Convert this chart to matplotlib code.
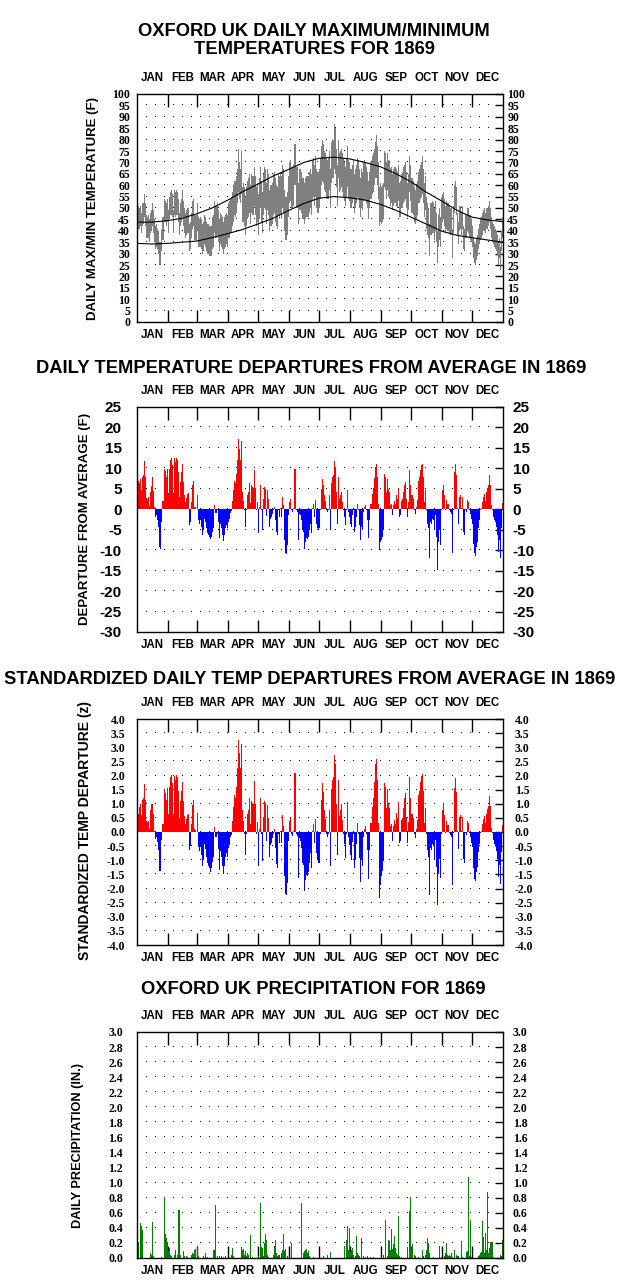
import numpy as np
import matplotlib
matplotlib.use('Agg')
import matplotlib.pyplot as plt

plt.rcParams['font.family'] = ['Liberation Sans', 'DejaVu Sans']
plt.rcParams['font.weight'] = 'bold'

# ---------------- DATA ----------------
months = ['JAN', 'FEB', 'MAR', 'APR', 'MAY', 'JUN', 'JUL', 'AUG', 'SEP', 'OCT', 'NOV', 'DEC']
month_days = [31, 29, 31, 30, 31, 30, 31, 31, 30, 31, 30, 31]

# daily maximum temperature (F), one value per day slot
tmax = [
    52, 51, 50, 51, 48, 52, 52, 56, 52, 47, 46, 47, 45, 48, 49, 52, 49, 45, 42, 43, 41, 40, 35, 35, 41, 46, 46, 54, 53, 52, 54,
    49, 55, 57, 58, 56, 49, 58, 57, 58, 57, 54, 48, 52, 54, 58, 53, 50, 48, 49, 50, 50, 43, 44, 48, 53, 54, 47, 47, 47,
    52, 46, 45, 46, 45, 43, 44, 47, 46, 44, 43, 43, 42, 42, 42, 46, 47, 53, 51, 51, 52, 49, 45, 48, 47, 46, 44, 46, 47, 48, 47,
    52, 53, 54, 55, 57, 60, 62, 62, 64, 67, 76, 70, 67, 75, 59, 61, 59, 55, 59, 62, 63, 65, 60, 65, 64, 64, 68, 64, 59, 61,
    56, 63, 68, 62, 57, 65, 68, 67, 61, 67, 65, 58, 60, 60, 61, 65, 66, 63, 60, 59, 65, 64, 66, 64, 69, 67, 58, 55, 55, 57, 64,
    70, 71, 68, 68, 69, 78, 78, 68, 68, 61, 67, 67, 66, 63, 63, 61, 63, 64, 64, 64, 66, 67, 65, 71, 72, 69, 73, 67, 66, 66,
    67, 72, 77, 80, 78, 75, 74, 72, 71, 72, 75, 67, 79, 80, 80, 87, 85, 76, 69, 80, 74, 75, 76, 74, 72, 70, 68, 72, 77, 71, 70,
    67, 67, 69, 71, 65, 67, 69, 72, 71, 67, 63, 67, 66, 70, 71, 70, 68, 66, 62, 66, 70, 70, 73, 74, 76, 79, 82, 77, 70, 59, 61,
    59, 60, 61, 75, 74, 70, 74, 71, 70, 67, 68, 65, 67, 68, 68, 67, 66, 69, 61, 62, 65, 66, 68, 69, 70, 66, 61, 65, 73, 69,
    63, 63, 62, 59, 58, 60, 62, 66, 67, 69, 70, 73, 67, 61, 64, 55, 52, 50, 43, 52, 52, 53, 52, 50, 53, 48, 40, 47, 50, 46, 55,
    56, 57, 54, 51, 53, 52, 52, 51, 50, 50, 40, 51, 60, 62, 59, 48, 44, 51, 51, 48, 51, 42, 41, 47, 47, 50, 50, 47, 47, 45,
    42, 37, 35, 34, 37, 38, 41, 43, 45, 46, 48, 49, 50, 48, 50, 50, 51, 53, 50, 46, 44, 43, 42, 41, 40, 38, 34, 37, 33, 40, 46,
]
# daily minimum temperature (F)
tmin = [
    42, 41, 41, 42, 39, 42, 43, 46, 42, 37, 37, 37, 35, 39, 40, 42, 39, 35, 32, 33, 32, 30, 25, 25, 31, 36, 36, 44, 44, 42, 44,
    39, 45, 47, 47, 46, 39, 47, 46, 47, 47, 44, 38, 42, 44, 46, 42, 39, 37, 38, 39, 39, 31, 32, 37, 41, 42, 36, 36, 35,
    40, 33, 33, 33, 32, 30, 31, 34, 33, 31, 30, 30, 29, 29, 29, 32, 33, 39, 37, 37, 38, 35, 31, 34, 33, 32, 30, 32, 33, 34, 33,
    37, 37, 39, 39, 42, 44, 47, 46, 48, 52, 57, 54, 52, 56, 44, 44, 42, 38, 42, 45, 46, 48, 43, 48, 47, 47, 51, 47, 42, 44,
    38, 45, 50, 44, 39, 47, 50, 49, 43, 49, 47, 40, 42, 42, 43, 47, 48, 44, 42, 41, 47, 45, 47, 45, 50, 48, 40, 36, 36, 38, 46,
    52, 53, 50, 50, 51, 60, 60, 50, 50, 43, 49, 49, 48, 45, 45, 43, 45, 46, 46, 46, 48, 50, 47, 53, 55, 51, 55, 50, 48, 48,
    50, 54, 60, 62, 61, 58, 57, 54, 54, 54, 58, 50, 61, 63, 63, 67, 65, 59, 51, 63, 57, 58, 59, 57, 55, 53, 51, 55, 59, 54, 53,
    50, 50, 52, 54, 48, 50, 52, 55, 54, 50, 46, 50, 49, 53, 54, 53, 52, 50, 45, 50, 54, 54, 56, 57, 60, 63, 63, 60, 54, 42, 44,
    43, 44, 45, 59, 58, 54, 58, 55, 54, 51, 52, 49, 51, 52, 52, 51, 50, 53, 46, 46, 50, 50, 52, 53, 54, 50, 46, 49, 57, 53,
    48, 48, 47, 44, 43, 45, 47, 52, 52, 54, 55, 56, 52, 46, 49, 41, 38, 37, 29, 38, 38, 39, 39, 36, 40, 35, 26, 33, 36, 33, 41,
    44, 45, 42, 39, 41, 40, 40, 39, 38, 38, 28, 39, 48, 50, 47, 38, 34, 40, 41, 38, 41, 32, 31, 37, 37, 40, 39, 37, 36, 35,
    33, 28, 26, 25, 27, 29, 32, 34, 36, 37, 38, 40, 40, 39, 41, 41, 42, 44, 41, 37, 35, 34, 33, 32, 31, 29, 25, 28, 23, 31, 37,
]

# normal (average) max / min curves
norm_days = [0, 15, 31, 45, 60, 75, 91, 105, 121, 136, 152, 167, 182, 197, 213, 228, 244, 259, 274, 289, 305, 320, 335, 350, 366]
norm_max = [43.8, 43.8, 44.5, 45.5, 47.5, 50.0, 53.5, 57.0, 60.5, 64.0, 67.0, 70.0, 71.8, 72.3, 71.5, 70.0, 68.0, 65.0, 61.5, 57.0, 53.0, 49.0, 46.0, 44.8, 44.0]
norm_min = [34.5, 34.2, 34.5, 35.0, 35.5, 37.0, 38.8, 40.5, 43.0, 45.5, 49.0, 52.0, 54.3, 55.0, 54.5, 53.5, 51.5, 49.0, 46.0, 43.0, 39.8, 38.0, 37.0, 36.0, 35.0]

# daily departure from average (F)
dep = [
    8, 7, 6.5, 7.3, 4.6, 7.9, 8.3, 11.7, 8, 2.8, 2.6, 3, 0.7, 4.2, 5.6, 7.9, 4.5, 0.5, -1.9, -1.3, -2.7, -4.3, -9.2, -9.6, -3, 2, 2, 9.9, 9.3, 8, 9.9,
    4, 9.8, 12, 12.6, 10.7, 4, 12.5, 11.5, 12.6, 12, 9, 3, 6.7, 9, 11, 6.7, 3.4, 1.8, 2.8, 3.8, 3.9, -3.9, -3, 1.8, 6, 7, 0.6, 0.5, 0,
    3.6, -2.7, -3.5, -2.7, -4.3, -6.3, -5.1, -2.3, -3.1, -4.6, -5.7, -6.3, -6.7, -7.3, -6.7, -5.5, -4.7, 1, -1, -1, -0.3, -3.1, -7, -3.5, -4.7, -6.2, -7.7, -6.3, -4.6, -3.9, -4.7,
    -3, -2.5, -1, -0.5, 2, 4.6, 7, 6.4, 8.5, 12, 17.2, 14.8, 12, 16.6, 4.2, 2, -0.3, -4.3, -0.3, 3.4, 4.2, 6.3, 1.6, 5.9, 5.4, 5.2, 9.5, 5.2, -0.3, 1.8,
    -5.9, 0.5, 5.9, -0.3, -5.1, 2.6, 5.4, 5, -1.6, 4.6, 2.4, -4.3, -2.3, -1.9, -1.1, -0.3, 0.5, -2.7, -5.5, -6.3, -0.3, -1.9, 0.2, -1.9, 3, 1, -7.6, -10.8, -11, -8.8, -1.5,
    1.8, 2.4, -0.3, -0.7, 0.2, 9.9, 9.9, -0.3, -0.7, -7.6, -1.1, -1.5, -2.7, -5.1, -5.5, -9.8, -8, -7.1, -7.3, -6.7, -5.1, -3.5, -5.9, 0.2, 1.4, -1.9, 2.2, -3.5, -4.7, -5.1,
    -4.7, -0.3, 4.9, 7.5, 6, 3.4, 2, -0.3, -0.7, -0.3, 3.4, -5.1, 6.5, 7.9, 8.3, 11.7, 10.3, 4.2, -3.5, 7.9, 2.4, 3.4, 4.2, 1.8, -0.3, -1.9, -3.9, -0.3, 4.6, -0.7, -2,
    -3.5, -4.3, -1.5, -0.3, -5.5, -4.3, -1.9, 1.4, -0.3, -3.9, -7.6, -4.3, -5.1, -0.7, 0.5, 1, -0.3, -2.7, -7.1, -2.7, 1.4, 1.4, 3.8, 5.2, 7.6, 10.3, 11.1, 7.9, 1.4, -10, -8,
    -7.6, -6.7, -5.1, 8.5, 7.9, 4.2, 7.5, 5.0, 4.2, 1, 1.4, -1.5, 1, 2, 1.4, 3.4, 2.4, 5.2, -1.9, -1.5, 2, 2.4, 4.2, 5.9, 6.7, 2.6, -1.9, 1.8, 9.5, 5.9,
    3.4, 3.4, 2.6, -0.3, -1.1, 0.5, 2.2, 7, 7.9, 9.5, 10.7, 11.1, 7.9, 1.8, 4.6, -0.3, -3.5, -4.7, -12, -3.1, -3.5, -2.3, -2.7, -5.1, -1.5, -6.7, -14.9, -8, -5.1, -8.8, -0.3,
    4.6, 5.9, 3.4, -0.3, 2.2, 1.4, 1.4, -0.3, -0.7, -1.1, -10.8, -0.3, 9.1, 11.1, 8.3, 0.2, -3.5, 3, 3.4, 0.2, 3, -5.5, -6.3, -0.3, -0.7, 2.2, 1.8, -0.3, -1.1, -2.3,
    -3.5, -8.4, -10.8, -11.4, -9.2, -8, -4.7, -2.7, -0.3, 0.2, 1.8, 3, 3.8, 2, 4.2, 5.2, 6, 8.3, 5.9, 1, -0.3, -1.9, -2.7, -3.1, -4.3, -6.3, -10.4, -7.6, -12, -4.7, 1.6,
]

# standardized daily departure (z)
zdep = [
    1.15, 0.65, 0.9, 1.0, 0.6, 1.15, 1.2, 1.7, 1.15, 0.4, 0.35, 0.4, 0.1, 0.77, 1.0, 1.0, 0.65, 0.05, -0.24, -0.18, -0.36, -0.65, -1.37, -1.39, -0.3, 0.27, 0.3, 1.49, 1.37, 1.15, 1.55,
    0.65, 1.58, 1.94, 2.03, 1.73, 0.65, 2.0, 1.85, 2.03, 1.94, 1.45, 0.48, 1.08, 1.45, 1.77, 1.08, 0.55, 0.29, 0.45, 0.61, 0.63, -0.63, -0.48, 0.29, 0.97, 1.13, 0.1, 0.08, 0,
    0.69, -0.52, -0.67, -0.52, -0.83, -1.21, -0.98, -0.44, -0.6, -0.88, -1.1, -1.21, -1.29, -1.4, -1.29, -1.06, -0.9, 0.19, -0.19, -0.19, -0.06, -0.6, -1.35, -0.67, -0.9, -1.19, -1.48, -1.21, -0.88, -0.75, -0.9,
    -0.57, -0.47, -0.19, -0.09, 0.38, 0.87, 1.32, 1.21, 1.6, 2.26, 3.25, 2.79, 2.26, 3.13, 0.79, 0.38, -0.06, -0.81, -0.06, 0.64, 0.79, 1.19, 0.3, 1.11, 1.02, 0.98, 1.79, 0.98, -0.06, 0.34,
    -1.2, 0.1, 1.2, -0.06, -1.04, 0.53, 1.1, 1.02, -0.33, 0.94, 0.49, -0.88, -0.47, -0.39, -0.22, -0.06, 0.1, -0.55, -1.12, -1.29, -0.06, -0.39, 0.04, -0.39, 0.61, 0.2, -1.55, -2.2, -2.24, -1.8, -0.31,
    0.38, 0.51, -0.06, -0.15, 0.04, 2.1, 2.1, -0.06, -0.15, -1.62, -0.23, -0.32, -0.57, -1.09, -1.17, -2.09, -1.7, -1.51, -1.55, -1.43, -1.09, -0.74, -1.26, 0.04, 0.3, -0.4, 0.47, -0.74, -1.0, -1.09,
    -1.09, -0.07, 1.14, 1.74, 1.4, 0.79, 0.47, -0.07, -0.16, -0.07, 0.79, -1.19, 1.51, 1.84, 1.93, 2.72, 2.4, 0.98, -0.81, 1.84, 0.56, 0.79, 0.98, 0.42, -0.07, -0.44, -0.91, -0.07, 1.07, -0.16, -0.47,
    -0.81, -1.0, -0.35, -0.07, -1.28, -1.0, -0.44, 0.33, -0.07, -0.91, -1.77, -1.0, -1.19, -0.16, 0.12, 0.23, -0.07, -0.63, -1.65, -0.63, 0.33, 0.33, 0.88, 1.21, 1.77, 2.4, 2.58, 1.84, 0.33, -2.33, -1.86,
    -1.55, -1.37, -1.04, 1.73, 1.61, 0.86, 1.53, 1.02, 0.86, 0.2, 0.29, -0.31, 0.2, 0.41, 0.29, 0.69, 0.49, 1.06, -0.39, -0.31, 0.41, 0.49, 0.86, 1.2, 1.37, 0.53, -0.39, 0.37, 1.94, 1.2,
    0.63, 0.63, 0.48, -0.06, -0.2, 0.09, 0.41, 1.3, 1.46, 1.76, 1.98, 2.06, 1.46, 0.33, 0.85, -0.06, -0.65, -0.87, -2.22, -0.57, -0.65, -0.43, -0.5, -0.94, -0.28, -1.24, -2.6, -1.48, -0.94, -1.63, -0.06,
    0.79, 1.02, 0.59, -0.05, 0.38, 0.24, 0.24, -0.05, -0.12, -0.19, -1.86, -0.05, 1.57, 1.91, 1.43, 0.03, -0.6, 0.52, 0.59, 0.03, 0.52, -0.95, -1.09, -0.05, -0.12, 0.38, 0.31, -0.05, -0.19, -0.4,
    -0.54, -1.29, -1.66, -1.75, -1.42, -1.23, -0.72, -0.42, -0.05, 0.03, 0.28, 0.46, 0.58, 0.31, 0.65, 0.8, 0.92, 1.28, 0.91, 0.15, -0.05, -0.29, -0.42, -0.48, -0.66, -0.97, -1.6, -1.17, -1.85, -0.72, 0.25,
]

# daily precipitation (inches): day slot index and amount for wet days
precip_days = [0, 1, 3, 4, 5, 13, 14, 15, 16, 24, 27, 28, 29, 30, 31, 32, 33, 34, 37, 38, 40, 41, 42, 43, 46, 47, 49, 50,
               54, 55, 56, 57, 58, 60, 61, 66, 68, 70, 76, 77, 78, 80, 82, 84, 86, 88, 92, 94, 95, 96, 104, 105, 106, 107,
               108, 109, 110, 111, 113, 115, 121, 123, 124, 125, 126, 127, 128, 129, 130, 131, 136, 137, 138, 139, 140, 141,
               142, 144, 145, 146, 147, 148, 150, 154, 164, 166, 167, 168, 169, 170, 171, 172, 176, 186, 190, 193, 207, 209,
               210, 211, 212, 213, 214, 215, 216, 218, 219, 220, 221, 222, 224, 226, 228, 230, 233, 236, 244, 246, 248, 250,
               251, 252, 253, 254, 255, 256, 257, 258, 259, 260, 261, 262, 264, 270, 272, 273, 274, 275, 277, 278, 281, 285,
               286, 288, 289, 290, 291, 292, 296, 302, 304, 307, 308, 309, 310, 311, 312, 313, 314, 315, 317, 319, 320, 321,
               324, 325, 329, 330, 331, 332, 333, 334, 341, 342, 343, 344, 345, 346, 347, 348, 349, 350, 351, 352, 353, 354,
               355, 356, 363, 364, 365]
precip_vals = [0.12, 0.21, 0.46, 0.43, 0.37, 0.07, 0.04, 0.48, 0.02, 0.01, 0.81, 0.32, 0.27, 0.21, 0.09, 0.13, 0.04, 0.03, 0.04, 0.11, 0.04, 0.64, 0.64, 0.04, 0.09, 0.03, 0.02, 0.01,
               0.04, 0.07, 0.05, 0.10, 0.12, 0.16, 0.02, 0.02, 0.06, 0.01, 0.11, 0.10, 0.71, 0.03, 0.02, 0.02, 0.01, 0.02, 0.01, 0.04, 0.13, 0.03, 0.15, 0.11, 0.12, 0.04,
               0.09, 0.03, 0.07, 0.04, 0.30, 0.01, 0.02, 0.73, 0.15, 0.13, 0.02, 0.20, 0.32, 0.24, 0.04, 0.01, 0.04, 0.16, 0.24, 0.07, 0.02, 0.04,
               0.04, 0.07, 0.11, 0.32, 0.09, 0.12, 0.02, 0.20, 0.73, 0.06, 0.09, 0.11, 0.12, 0.07, 0.09, 0.03, 0.01, 0.02, 0.04, 0.08, 0.16, 0.24,
               0.42, 0.11, 0.40, 0.08, 0.11, 0.13, 0.04, 0.02, 0.29, 0.07, 0.04, 0.02, 0.27, 0.03, 0.01, 0.02, 0.01, 0.01, 0.01, 0.04, 0.51, 0.03,
               0.24, 0.22, 0.11, 0.38, 0.12, 0.19, 0.29, 0.13, 0.07, 0.04, 0.56, 0.02, 0.01, 0.15, 0.63, 0.81, 0.11, 0.18, 0.04, 0.02, 0.01, 0.10,
               0.02, 0.04, 0.11, 0.27, 0.20, 0.06, 0.01, 0.16, 0.01, 0.03, 0.07, 0.20, 0.04, 0.03, 0.04, 0.03, 0.07, 0.01, 0.11, 0.04, 0.02, 0.03,
               0.22, 0.01, 0.08, 0.09, 1.07, 0.02, 0.50, 0.01, 0.02, 0.04, 0.07, 0.08, 0.49, 0.28, 0.07, 0.33, 0.11, 0.88, 0.07, 0.13, 0.21, 0.21,
               0.21, 0.01, 0.04, 0.03, 0.24]

assert len(tmax) == 366 and len(tmin) == 366 and len(dep) == 366 and len(zdep) == 366
assert len(precip_days) == len(precip_vals)

# ---------------- FIGURE ----------------
W, H = 634, 1282
fig = plt.figure(figsize=(W / 100, H / 100), dpi=100)

def px_axes(left, top, right, bottom):
    return fig.add_axes([left / W, 1 - bottom / H, (right - left) / W, (bottom - top) / H])

bounds = np.concatenate([[0], np.cumsum(month_days)])
dot_x = np.arange(9, 355, 9)
x = np.arange(len(tmax))

SERIF = ['Liberation Serif', 'DejaVu Serif']
SANS = ['Liberation Sans', 'DejaVu Sans']

def setup(ax, ylo, yhi, yticks, labels, grid_levels, tfam, tsize, lpad, rpad):
    ax.set_xlim(0, 366)
    ax.set_ylim(ylo, yhi)
    for s in ax.spines.values():
        s.set_linewidth(1.0)
    ax.set_xticks(bounds[1:-1])
    ax.tick_params(axis='x', direction='in', length=9, width=1, top=True, bottom=True,
                   labelbottom=False)
    ax.set_yticks(yticks)
    ax.set_yticklabels(labels)
    ax.tick_params(axis='y', direction='in', length=6, width=1, left=False, right=True,
                   labelleft=True, labelright=False, pad=lpad)
    for t in ax.get_yticklabels():
        t.set_fontfamily(tfam)
        t.set_fontsize(tsize)
        t.set_fontweight('bold')
    # right-hand labels
    for v, s in zip(yticks, labels):
        ax.annotate(s, (1, v), xycoords=('axes fraction', 'data'), xytext=(rpad, 0),
                    textcoords='offset points', ha='left', va='center_baseline',
                    fontfamily=tfam, fontsize=tsize, fontweight='bold', annotation_clip=False)
    for lv in grid_levels:
        ax.plot(dot_x, [lv] * len(dot_x), ls='none', marker=',', color='black', zorder=1)
    for i, m in enumerate(months):
        mid = (bounds[i] + bounds[i + 1]) / 2
        ax.annotate(m, (mid, 1), xycoords=('data', 'axes fraction'), xytext=(0, 11.5),
                    textcoords='offset points', ha='center', va='center', fontsize=8.3, fontweight='bold')
        ax.annotate(m, (mid, 0), xycoords=('data', 'axes fraction'), xytext=(0, -9.5),
                    textcoords='offset points', ha='center', va='center', fontsize=8.3, fontweight='bold')

# Panel 1
ax1 = px_axes(137, 94, 503, 322)
t1 = list(range(0, 101, 5))
setup(ax1, 0, 100, t1, [str(v) for v in t1], t1[1:-1], SERIF, 8.5, 5, 3)
ax1.bar(x, np.array(tmax) - np.array(tmin), bottom=tmin, width=1.0, align='edge',
        color='#808080', linewidth=0, antialiased=False, zorder=2)
ax1.plot(norm_days, norm_max, color='black', lw=0.8, zorder=3)
ax1.plot(norm_days, norm_min, color='black', lw=0.8, zorder=3)

# Panel 2
ax2 = px_axes(137, 407, 503, 632)
t2 = list(range(-30, 26, 5))
setup(ax2, -30, 25, t2, [str(v) for v in t2], t2[1:-1], SANS, 11, 11, 7)
c2 = ['#FF0000' if v > 0 else '#0000FF' for v in dep]
ax2.bar(x, dep, width=1.0, align='edge', color=c2, linewidth=0, antialiased=False, zorder=2)

# Panel 3
ax3 = px_axes(137, 719, 503, 945)
t3 = [v / 2 for v in range(-8, 9)]
setup(ax3, -4, 4, t3, ['%.1f' % v for v in t3], t3[1:-1], SERIF, 8.5, 8.5, 8.5)
c3 = ['#FF0000' if v > 0 else '#0000FF' for v in zdep]
ax3.bar(x, zdep, width=1.0, align='edge', color=c3, linewidth=0, antialiased=False, zorder=2)

# Panel 4
ax4 = px_axes(137, 1032, 503, 1258)
t4 = [v / 5 for v in range(0, 16)]
setup(ax4, 0, 3.0, t4, ['%.1f' % v for v in t4], t4[1:-1], SERIF, 8.5, 10, 7)
ax4.bar(precip_days, precip_vals, width=1.0, align='edge', color='#008000', linewidth=0,
        antialiased=False, zorder=2)

# Titles
def ftext(xp, yp, s, **kw):
    fig.text(xp / W, 1 - yp / H, s, ha='center', va='center', fontweight='bold', **kw)

ftext(314, 31, 'OXFORD UK DAILY MAXIMUM/MINIMUM', fontsize=13.2)
ftext(314, 50, 'TEMPERATURES FOR 1869', fontsize=13.2)
ftext(311, 368, 'DAILY TEMPERATURE DEPARTURES FROM AVERAGE IN 1869', fontsize=13.2)
ftext(310, 680, 'STANDARDIZED DAILY TEMP DEPARTURES FROM AVERAGE IN 1869', fontsize=13.2)
ftext(313, 990, 'OXFORD UK PRECIPITATION FOR 1869', fontsize=13.2)

# Y labels
ftext(93, 208, 'DAILY MAX/MIN TEMPERATURE (F)', fontsize=9.5, rotation=90)
ftext(85, 519, 'DEPARTURE FROM AVERAGE (F)', fontsize=9.5, rotation=90)
ftext(85, 830, 'STANDARDIZED TEMP DEPARTURE (z)', fontsize=10, rotation=90)
ftext(78, 1145, 'DAILY PRECIPITATION (IN.)', fontsize=9.2, rotation=90)

fig.savefig('out.png', dpi=100)
